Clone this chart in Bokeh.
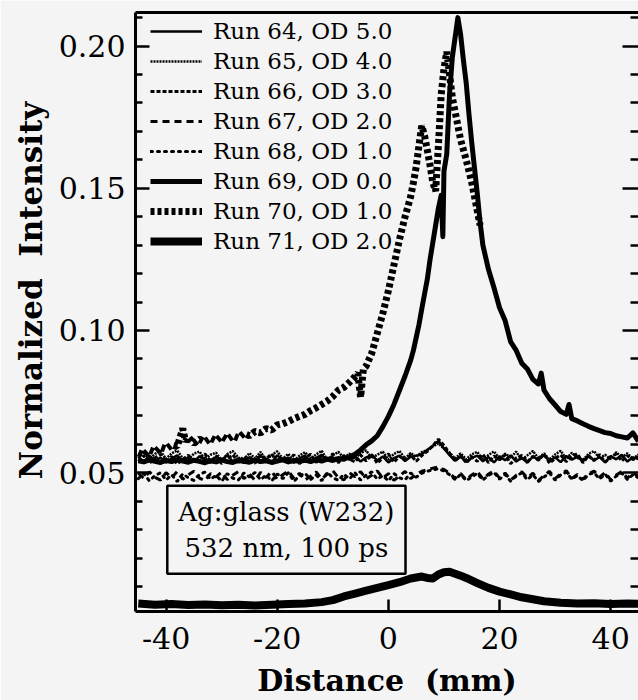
from bokeh.plotting import figure
from bokeh.models import LinearAxis, FixedTicker, PrintfTickFormatter, Range1d, Label
from bokeh.embed import file_html
from bokeh.resources import INLINE

BG = "#f4f4f4"
FONT = "DejaVu Serif"

# ---------------- data ----------------
DIST = [-45, -44, -43, -42, -41, -40, -39, -38, -37, -36,
        -35, -34, -33, -32, -31, -30, -29, -28, -27, -26,
        -25, -24, -23, -22, -21, -20, -19, -18, -17, -16,
        -15, -14, -13, -12, -11, -10, -9, -8, -7, -6,
        -5, -4, -3, -2, -1, 0, 1, 2, 3, 4,
        5, 6, 7, 8, 9, 10, 11, 12, 13, 14,
        15, 16, 17, 18, 19, 20, 21, 22, 23, 24,
        25, 26, 27, 28, 29, 30, 31, 32, 33, 34,
        35, 36, 37, 38, 39, 40, 41, 42, 43, 44,
        45]

RUN64 = [0.0556, 0.0538, 0.0560, 0.0542, 0.0553, 0.0536, 0.0550, 0.0561, 0.0540, 0.0554,
         0.0537, 0.0558, 0.0545, 0.0535, 0.0557, 0.0543, 0.0562, 0.0539, 0.0551, 0.0534,
         0.0555, 0.0541, 0.0559, 0.0546, 0.0536, 0.0561, 0.0544, 0.0553, 0.0535, 0.0550,
         0.0560, 0.0540, 0.0552, 0.0563, 0.0542, 0.0555, 0.0537, 0.0561, 0.0545, 0.0558,
         0.0539, 0.0554, 0.0562, 0.0543, 0.0557, 0.0536, 0.0551, 0.0560, 0.0541, 0.0556,
         0.0560, 0.0565, 0.0580, 0.0595, 0.0612, 0.0585, 0.0562, 0.0542, 0.0556, 0.0538,
         0.0552, 0.0560, 0.0540, 0.0555, 0.0536, 0.0558, 0.0544, 0.0561, 0.0539, 0.0553,
         0.0535, 0.0557, 0.0545, 0.0562, 0.0541, 0.0554, 0.0537, 0.0559, 0.0546, 0.0556,
         0.0540, 0.0561, 0.0543, 0.0555, 0.0536, 0.0558, 0.0547, 0.0563, 0.0539, 0.0554,
         0.0548]

RUN65 = [0.0552, 0.0571, 0.0547, 0.0566, 0.0575, 0.0549, 0.0568, 0.0578, 0.0551, 0.0545,
         0.0567, 0.0574, 0.0548, 0.0563, 0.0570, 0.0543, 0.0565, 0.0576, 0.0553, 0.0546,
         0.0569, 0.0550, 0.0573, 0.0544, 0.0562, 0.0575, 0.0549, 0.0566, 0.0541, 0.0560,
         0.0572, 0.0550, 0.0564, 0.0577, 0.0545, 0.0561, 0.0573, 0.0552, 0.0567, 0.0548,
         0.0570, 0.0578, 0.0551, 0.0563, 0.0574, 0.0546, 0.0566, 0.0576, 0.0550, 0.0569,
         0.0556, 0.0572, 0.0580, 0.0592, 0.0603, 0.0584, 0.0571, 0.0550, 0.0568, 0.0547,
         0.0565, 0.0573, 0.0545, 0.0562, 0.0575, 0.0549, 0.0567, 0.0553, 0.0574, 0.0544,
         0.0561, 0.0576, 0.0551, 0.0568, 0.0546, 0.0564, 0.0577, 0.0549, 0.0570, 0.0552,
         0.0545, 0.0566, 0.0576, 0.0550, 0.0563, 0.0547, 0.0572, 0.0553, 0.0568, 0.0549,
         0.0564]

RUN66 = [0.0540, 0.0560, 0.0533, 0.0552, 0.0565, 0.0537, 0.0557, 0.0531, 0.0546, 0.0562,
         0.0535, 0.0553, 0.0566, 0.0539, 0.0559, 0.0532, 0.0548, 0.0563, 0.0536, 0.0557,
         0.0543, 0.0534, 0.0561, 0.0549, 0.0566, 0.0537, 0.0554, 0.0540, 0.0563, 0.0532,
         0.0551, 0.0565, 0.0536, 0.0558, 0.0542, 0.0567, 0.0535, 0.0560, 0.0547, 0.0538,
         0.0562, 0.0541, 0.0564, 0.0533, 0.0553, 0.0566, 0.0537, 0.0558, 0.0545, 0.0563,
         0.0540, 0.0560, 0.0575, 0.0595, 0.0618, 0.0596, 0.0568, 0.0541, 0.0562, 0.0534,
         0.0556, 0.0540, 0.0565, 0.0535, 0.0559, 0.0545, 0.0563, 0.0532, 0.0552, 0.0561,
         0.0538, 0.0558, 0.0544, 0.0566, 0.0533, 0.0551, 0.0562, 0.0539, 0.0557, 0.0567,
         0.0535, 0.0559, 0.0543, 0.0564, 0.0537, 0.0555, 0.0566, 0.0541, 0.0560, 0.0546,
         0.0557]

RUN67 = [0.0498, 0.0480, 0.0503, 0.0484, 0.0474, 0.0500, 0.0482, 0.0504, 0.0477, 0.0492,
         0.0505, 0.0481, 0.0472, 0.0497, 0.0485, 0.0502, 0.0476, 0.0491, 0.0504, 0.0479,
         0.0496, 0.0473, 0.0501, 0.0483, 0.0505, 0.0477, 0.0493, 0.0506, 0.0480, 0.0498,
         0.0474, 0.0488, 0.0503, 0.0478, 0.0495, 0.0507, 0.0482, 0.0475, 0.0500, 0.0486,
         0.0504, 0.0478, 0.0491, 0.0506, 0.0481, 0.0497, 0.0473, 0.0488, 0.0505, 0.0479,
         0.0494, 0.0505, 0.0510, 0.0516, 0.0520, 0.0511, 0.0498, 0.0480, 0.0497, 0.0475,
         0.0492, 0.0504, 0.0478, 0.0495, 0.0506, 0.0481, 0.0499, 0.0474, 0.0491, 0.0503,
         0.0482, 0.0498, 0.0473, 0.0490, 0.0505, 0.0479, 0.0496, 0.0507, 0.0480, 0.0494,
         0.0477, 0.0497, 0.0506, 0.0484, 0.0501, 0.0475, 0.0492, 0.0504, 0.0481, 0.0499,
         0.0489]

RUN68 = [0.0479, 0.0497, 0.0471, 0.0490, 0.0500, 0.0474, 0.0493, 0.0469, 0.0496, 0.0482,
         0.0473, 0.0494, 0.0502, 0.0477, 0.0491, 0.0470, 0.0497, 0.0481, 0.0474, 0.0499,
         0.0485, 0.0501, 0.0475, 0.0492, 0.0471, 0.0496, 0.0479, 0.0500, 0.0470, 0.0489,
         0.0498, 0.0476, 0.0492, 0.0472, 0.0501, 0.0483, 0.0473, 0.0495, 0.0478, 0.0500,
         0.0474, 0.0491, 0.0503, 0.0477, 0.0490, 0.0471, 0.0497, 0.0482, 0.0475, 0.0499,
         0.0484, 0.0498, 0.0505, 0.0510, 0.0514, 0.0506, 0.0493, 0.0476, 0.0494, 0.0472,
         0.0485, 0.0498, 0.0474, 0.0491, 0.0501, 0.0477, 0.0494, 0.0470, 0.0488, 0.0500,
         0.0475, 0.0493, 0.0469, 0.0485, 0.0499, 0.0474, 0.0492, 0.0502, 0.0477, 0.0490,
         0.0472, 0.0494, 0.0500, 0.0478, 0.0495, 0.0470, 0.0488, 0.0499, 0.0476, 0.0493,
         0.0482]

RUN69_X = [-45, -44, -43, -42, -41, -40, -39, -38, -37, -36,
           -35, -34, -33, -32, -31, -30, -29, -28, -27, -26,
           -25, -24, -23, -22, -21, -20, -19, -18, -17, -16,
           -15, -14, -13, -12, -11, -10, -9, -8, -7, -6,
           -5, -4, -3, -2, -1, 0, 1, 2, 3,
           4, 4.5, 5, 5.5, 6, 6.5, 7, 7.5, 8, 8.5,
           9, 9.5, 9.8, 10, 10.5, 11, 11.5, 12, 12.5, 13,
           13.5, 14, 14.5, 15, 15.5, 16, 16.5, 17,
           18, 19, 20, 21, 22, 23, 24, 25, 26, 27,
           27.5,
           28, 29, 30, 31, 32,
           32.5,
           33, 34, 35, 36, 37, 38, 39, 40, 41, 42, 43, 44, 45]
RUN69 = [0.0542, 0.0538, 0.0545, 0.0540, 0.0536, 0.0543, 0.0539, 0.0546, 0.0541, 0.0537,
         0.0544, 0.0540, 0.0535, 0.0542, 0.0538, 0.0545, 0.0539, 0.0536, 0.0543, 0.0540,
         0.0537, 0.0544, 0.0539, 0.0542, 0.0536, 0.0541, 0.0545, 0.0538, 0.0543, 0.0540,
         0.0544, 0.0539, 0.0546, 0.0541, 0.0548, 0.0543, 0.0550, 0.0547, 0.0556, 0.0565,
         0.0580, 0.0598, 0.0612, 0.0630, 0.0662, 0.0698, 0.0740, 0.0790, 0.0840,
         0.0895, 0.0930, 0.0975, 0.1020, 0.1075, 0.1128, 0.1180, 0.1250, 0.1310, 0.1370,
         0.1430, 0.1475, 0.1330, 0.1560, 0.1620, 0.1830, 0.1960, 0.2030, 0.2100, 0.2040,
         0.1950, 0.1870, 0.1760, 0.1660, 0.1570, 0.1480, 0.1380, 0.1300,
         0.1215, 0.1150, 0.1080, 0.1035, 0.0960, 0.0930, 0.0885, 0.0865, 0.0828, 0.0812,
         0.0850,
         0.0790, 0.0760, 0.0738, 0.0715, 0.0705,
         0.0740,
         0.0690, 0.0682, 0.0672, 0.0663, 0.0655, 0.0648, 0.0641, 0.0638, 0.0630, 0.0626,
         0.0622, 0.0640, 0.0610]

RUN70_X = [-45, -44, -43, -42, -41, -40, -39, -38, -37, -36.5,
           -36, -35, -34, -33, -32, -31, -30, -29, -28, -27,
           -26, -25, -24, -23, -22, -21, -20, -19, -18, -17,
           -16, -15, -14, -13, -12, -11, -10, -9, -8, -7,
           -6, -5.5, -5, -4.5, -4, -3, -2, -1, 0, 1,
           2, 3, 4, 4.5, 5, 5.5, 6, 6.5, 7, 7.5,
           8, 8.5, 9, 9.5, 10, 10.5, 11, 11.5, 12, 12.5,
           13, 14, 15, 16, 16.5]
RUN70 = [0.0570, 0.0562, 0.0580, 0.0572, 0.0590, 0.0583, 0.0598, 0.0592, 0.0655, 0.0610,
         0.0625, 0.0603, 0.0618, 0.0608, 0.0622, 0.0612, 0.0628, 0.0616, 0.0630, 0.0622,
         0.0638, 0.0630, 0.0645, 0.0640, 0.0655, 0.0650, 0.0668, 0.0672, 0.0680, 0.0690,
         0.0698, 0.0705, 0.0718, 0.0728, 0.0740, 0.0752, 0.0768, 0.0790, 0.0800, 0.0818,
         0.0838, 0.0850, 0.0765, 0.0865, 0.0875, 0.0920, 0.0990, 0.1060, 0.1140, 0.1230,
         0.1320, 0.1400, 0.1470, 0.1520, 0.1575, 0.1650, 0.1720, 0.1685, 0.1635, 0.1580,
         0.1520, 0.1490, 0.1650, 0.1830, 0.1920, 0.1980, 0.1900, 0.1820, 0.1770, 0.1720,
         0.1670, 0.1600, 0.1520, 0.1420, 0.1370]

RUN71_X = [-45, -42, -39, -36, -33, -30, -27, -24, -21, -18,
           -15, -12, -10, -8, -6, -4, -2, 0, 2, 4,
           6, 7, 8, 9, 10, 11, 12, 13, 14, 16,
           18, 20, 22, 24, 26, 28, 31, 34, 37, 40,
           43, 45]
RUN71 = [0.0040, 0.0036, 0.0038, 0.0035, 0.0037, 0.0034, 0.0036, 0.0033, 0.0036, 0.0038,
         0.0040, 0.0045, 0.0052, 0.0065, 0.0075, 0.0085, 0.0095, 0.0105, 0.0115, 0.0128,
         0.0135, 0.0130, 0.0128, 0.0142, 0.0150, 0.0152, 0.0145, 0.0138, 0.0130, 0.0112,
         0.0095, 0.0082, 0.0072, 0.0062, 0.0055, 0.0048, 0.0043, 0.0040, 0.0041, 0.0038,
         0.0040, 0.0039]

LABELS = ["Run 64, OD 5.0", "Run 65, OD 4.0", "Run 66, OD 3.0", "Run 67, OD 2.0",
          "Run 68, OD 1.0", "Run 69, OD 0.0", "Run 70, OD 1.0", "Run 71, OD 2.0"]

X_TICKS = [-40, -20, 0, 20, 40]
Y_TICKS = [0.05, 0.10, 0.15, 0.20]
Y_MINOR = [0.01, 0.02, 0.03, 0.04, 0.06, 0.07, 0.08, 0.09, 0.11, 0.12,
           0.13, 0.14, 0.16, 0.17, 0.18, 0.19, 0.21]

NB = "\u00a0"

# ---------------- figure ----------------
p = figure(width=638, height=700, output_backend="svg", toolbar_location=None,
           x_range=Range1d(-45.5, 45.0), y_range=Range1d(0.0012, 0.2118),
           min_border_left=135, min_border_right=0, min_border_top=12,
           min_border_bottom=88)
p.title.visible = False
p.outline_line_color = None
p.grid.visible = False
p.background_fill_color = BG
p.border_fill_color = BG

# series
p.line(DIST, RUN64, line_color="black", line_width=2.5, legend_label=LABELS[0])
p.line(DIST, RUN65, line_color="black", line_width=2.5, line_dash="2 1",
       legend_label=LABELS[1])
p.line(DIST, RUN66, line_color="black", line_width=3, line_dash="4 2",
       legend_label=LABELS[2])
p.line(DIST, RUN67, line_color="black", line_width=3, line_dash="7 5",
       legend_label=LABELS[3])
p.line(DIST, RUN68, line_color="black", line_width=3, line_dash="2 5",
       line_cap="round", legend_label=LABELS[4])
p.line(RUN69_X, RUN69, line_color="black", line_width=5, line_join="round",
       legend_label=LABELS[5])
p.line(RUN70_X, RUN70, line_color="black", line_width=7, line_dash="4 3",
       legend_label=LABELS[6])
p.line(RUN71_X, RUN71, line_color="black", line_width=8, line_join="round",
       legend_label=LABELS[7])

# left axis
yax = p.yaxis[0]
yax.ticker = FixedTicker(ticks=Y_TICKS, minor_ticks=Y_MINOR)
yax.formatter = PrintfTickFormatter(format="%.2f")
yax.axis_line_width = 3
yax.major_tick_in = 14
yax.major_tick_out = 0
yax.minor_tick_in = 7
yax.minor_tick_out = 0
yax.major_tick_line_width = 2.5
yax.minor_tick_line_width = 2.5
yax.major_label_text_font = FONT
yax.major_label_text_font_size = "30px"
yax.major_label_text_color = "black"
yax.major_label_standoff = 10
yax.axis_label = NB * 4 + "Normalized" + NB * 2 + "Intensity"
yax.axis_label_text_font = FONT
yax.axis_label_text_font_size = "31px"
yax.axis_label_text_font_style = "bold"
yax.axis_label_text_color = "black"
yax.axis_label_standoff = 7

# bottom axis
xax = p.xaxis[0]
xax.ticker = FixedTicker(ticks=X_TICKS, minor_ticks=[])
xax.formatter = PrintfTickFormatter(format="%d")
xax.axis_line_width = 3
xax.major_tick_in = 12
xax.major_tick_out = 0
xax.minor_tick_in = 0
xax.minor_tick_out = 0
xax.major_tick_line_width = 2.5
xax.major_label_text_font = FONT
xax.major_label_text_font_size = "30px"
xax.major_label_text_color = "black"
xax.major_label_standoff = 15
xax.axis_label = "Distance" + NB * 2 + "(mm)"
xax.axis_label_text_font = FONT
xax.axis_label_text_font_size = "30px"
xax.axis_label_text_font_style = "bold"
xax.axis_label_text_color = "black"
xax.axis_label_standoff = 11

# right axis: ticks only
rax = LinearAxis(ticker=FixedTicker(ticks=Y_TICKS, minor_ticks=Y_MINOR))
rax.axis_line_color = None
rax.major_tick_in = 16
rax.major_tick_out = 0
rax.minor_tick_in = 8
rax.minor_tick_out = 0
rax.major_tick_line_width = 2.5
rax.minor_tick_line_width = 2.5
rax.major_label_text_font_size = "1px"
rax.major_label_text_color = None
rax.major_label_standoff = 0
p.add_layout(rax, "right")

# top axis: frame line only
tax = LinearAxis(ticker=FixedTicker(ticks=[], minor_ticks=[]))
tax.axis_line_width = 3
tax.major_tick_in = 0
tax.major_tick_out = 0
tax.minor_tick_in = 0
tax.minor_tick_out = 0
tax.major_label_text_font_size = "1px"
tax.major_label_text_color = None
tax.major_label_standoff = 0
p.add_layout(tax, "above")

# legend
lg = p.legend[0]
lg.location = (15, 355)
lg.margin = 0
lg.padding = 0
lg.spacing = 0
lg.label_height = 30
lg.glyph_height = 30
lg.glyph_width = 52
lg.label_standoff = 11
lg.label_text_font = FONT
lg.label_text_font_size = "23px"
lg.label_text_color = "black"
lg.border_line_color = None
lg.background_fill_alpha = 0

# annotation box
note = Label(x=-18.35, y=0.0299, text="Ag:glass (W232)\n532 nm, 100 ps",
             text_align="center", text_baseline="middle",
             text_font=FONT, text_font_size="26px", text_color="black",
             text_line_height=1.2,
             border_line_color="black", border_line_width=2.5,
             background_fill_color=BG, padding=11)
p.add_layout(note)

html = file_html(p, INLINE)
html = html.replace("<body>", '<body style="background-color:%s;">' % BG, 1)
open("out.html", "w").write(html)
